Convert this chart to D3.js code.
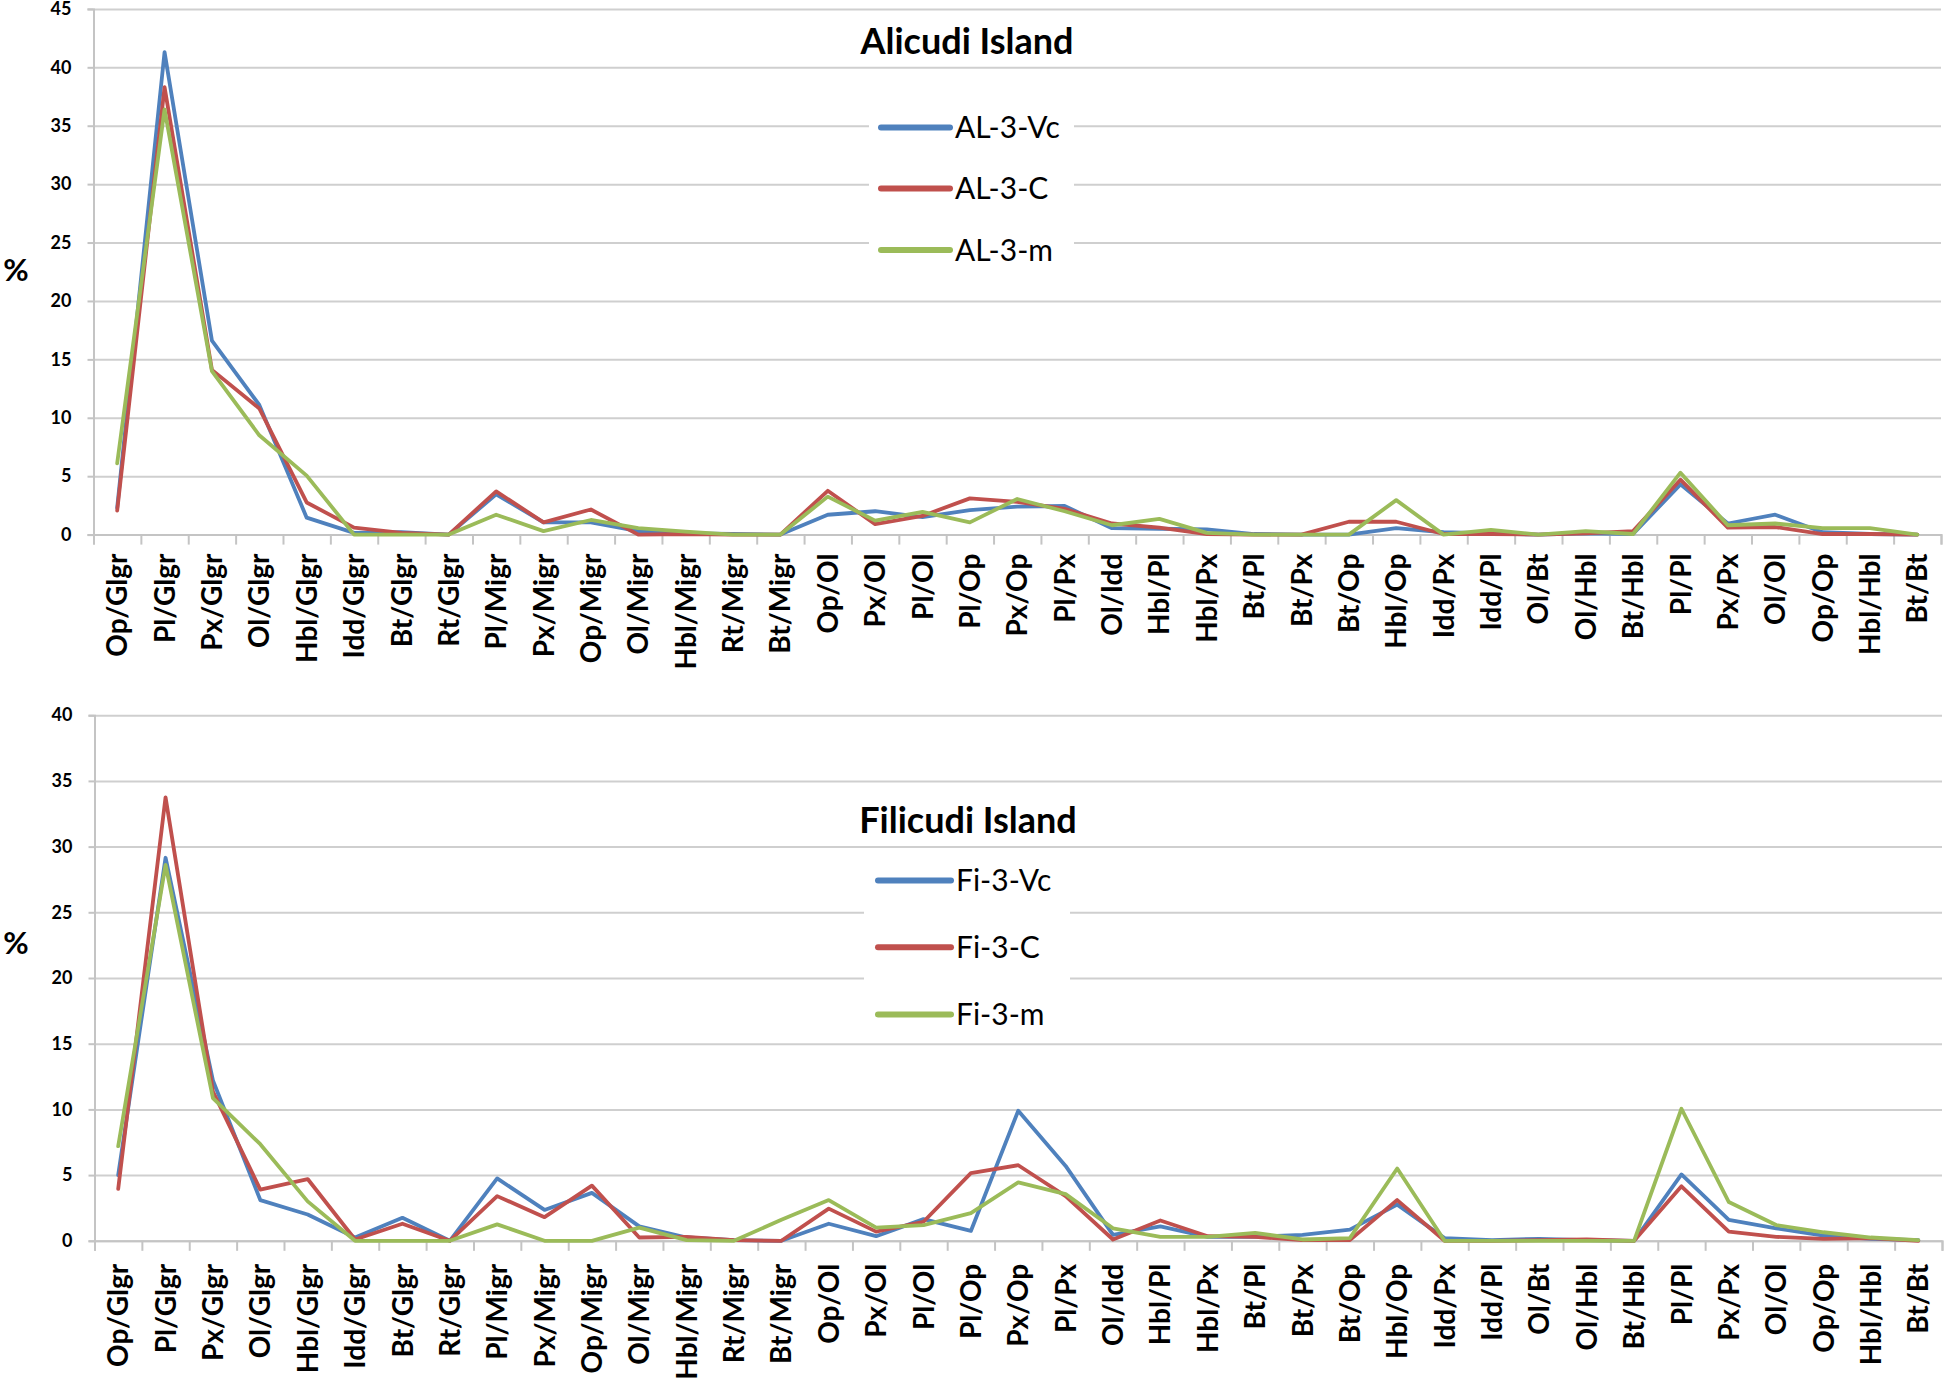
<!DOCTYPE html>
<html>
<head>
<meta charset="utf-8">
<script src="https://cdn.jsdelivr.net/npm/d3@7"></script>
<style>
  html, body { margin: 0; padding: 0; background: #ffffff; }
  svg { display: block; }
  .f { font-family: Lato, 'Open Sans', 'Liberation Sans', sans-serif; }
</style>
</head>
<body>
<svg id="chart" width="1946" height="1382"></svg>
<script>
const categories = ["Op/Glgr","Pl/Glgr","Px/Glgr","Ol/Glgr","Hbl/Glgr","Idd/Glgr","Bt/Glgr","Rt/Glgr",
  "Pl/Migr","Px/Migr","Op/Migr","Ol/Migr","Hbl/Migr","Rt/Migr","Bt/Migr",
  "Op/Ol","Px/Ol","Pl/Ol","Pl/Op","Px/Op","Pl/Px","Ol/Idd","Hbl/Pl","Hbl/Px","Bt/Pl","Bt/Px","Bt/Op",
  "Hbl/Op","Idd/Px","Idd/Pl","Ol/Bt","Ol/Hbl","Bt/Hbl","Pl/Pl","Px/Px","Ol/Ol","Op/Op","Hbl/Hbl","Bt/Bt"];

const alicudiNames = ["AL-3-Vc","AL-3-C","AL-3-m"];
const alicudiVc = [2.3,41.3,16.6,11.1,1.45,0.15,0.2,0,3.45,1.05,1.05,0.3,0.1,0.05,0,1.7,2.0,1.5,2.1,2.4,2.45,0.55,0.5,0.45,0.05,0,0,0.55,0.2,0.1,0,0.1,0.05,4.3,0.95,1.7,0.2,0.05,0];
const alicudiC  = [2.05,38.3,14.1,10.8,2.75,0.6,0.15,0,3.7,1.05,2.15,0,0.05,0,0,3.75,0.9,1.6,3.1,2.8,2.2,0.95,0.6,0.05,0,0,1.1,1.1,0.05,0.05,0,0.1,0.3,4.7,0.6,0.65,0.05,0.05,0];
const alicudiM  = [6.1,36.4,14.0,8.5,5.05,0,0,0,1.7,0.3,1.25,0.55,0.25,0,0,3.25,1.2,1.95,1.05,3.05,2.0,0.8,1.35,0.15,0,0,0,2.95,0,0.4,0,0.3,0.05,5.3,0.8,0.95,0.55,0.55,0];
const alicudiTicks = [0,5,10,15,20,25,30,35,40,45];

const filicudiNames = ["Fi-3-Vc","Fi-3-C","Fi-3-m"];
const filicudiVc = [5.0,29.15,12.2,3.1,2.0,0.25,1.75,0,4.75,2.35,3.65,1.1,0.25,0.05,0,1.3,0.35,1.65,0.75,9.9,5.7,0.45,1.1,0.3,0.3,0.45,0.85,2.75,0.2,0.05,0.15,0.05,0,5.05,1.6,0.95,0.4,0.15,0.05];
const filicudiC  = [3.95,33.75,11.35,3.9,4.7,0.1,1.3,0,3.4,1.8,4.2,0.25,0.3,0.05,0,2.45,0.7,1.45,5.15,5.75,3.4,0.1,1.55,0.35,0.3,0.05,0.05,3.1,0,0,0.05,0.1,0,4.15,0.7,0.3,0.15,0.2,0];
const filicudiM  = [7.2,28.6,10.85,7.35,3.0,0,0,0,1.25,0,0,1.0,0.05,0,1.6,3.1,1.0,1.2,2.1,4.45,3.55,0.95,0.3,0.3,0.6,0.1,0.2,5.5,0,0,0,0,0,10.05,2.95,1.2,0.65,0.25,0.05];
const filicudiTicks = [0,5,10,15,20,25,30,35,40];

const colors = ["#4F81BD","#C0504D","#9BBB59"];
const svg = d3.select("#chart");
svg.append("rect").attr("width",1946).attr("height",1382).attr("fill","#fff");

function drawChart(o) {
  const g = svg.append("g");
  const x = d3.scaleBand().domain(categories).range([o.x0, o.x1]).padding(0);
  const xb = d3.scaleLinear().domain([0, categories.length]).range([o.x0, o.x1]);
  const y = d3.scaleLinear().domain([0, d3.max(o.ticks)]).range([o.yb, o.yt]);
  const w = o.x1 - o.x0;

  // gridlines
  const grid = g.append("g").attr("transform", `translate(${o.x0},0)`)
    .call(d3.axisLeft(y).tickValues(o.ticks).tickSize(-w).tickFormat(""));
  grid.select(".domain").remove();
  grid.selectAll("line").attr("stroke", "#cfcfcf").attr("stroke-width", 2);

  // left axis with labels
  const ya = g.append("g").attr("transform", `translate(${o.x0},0)`)
    .call(d3.axisLeft(y).tickValues(o.ticks).tickSize(6).tickPadding(16));
  ya.select(".domain").attr("stroke", "#c4c4c4").attr("stroke-width", 2);
  ya.selectAll("line").attr("stroke", "#c4c4c4").attr("stroke-width", 2);
  ya.selectAll("text").attr("class","f").attr("font-size", 18).attr("font-weight", "bold").attr("fill", "#000");

  // legend box (white, hides gridlines)
  g.append("rect").attr("x", o.lx).attr("y", o.ly).attr("width", o.lw).attr("height", o.lh).attr("fill", "#fff");

  // bottom axis: tick marks at band boundaries
  const xt = g.append("g").attr("transform", `translate(0,${o.yb})`)
    .call(d3.axisBottom(xb).tickValues(d3.range(categories.length + 1)).tickSize(10).tickFormat(""));
  xt.select(".domain").attr("stroke", "#c4c4c4").attr("stroke-width", 2);
  xt.selectAll("line").attr("stroke", "#c4c4c4").attr("stroke-width", 2);

  // category labels
  const xa = g.append("g").attr("transform", `translate(0,${o.yb})`)
    .call(d3.axisBottom(x).tickSize(0).tickPadding(0));
  xa.select(".domain").remove();
  xa.selectAll("text")
    .attr("class","f")
    .attr("font-size", 28).attr("font-weight", "bold").attr("fill", "#000")
    .attr("text-anchor", "end")
    .attr("transform", `translate(0,${o.labelGap}) rotate(-90)`)
    .attr("x", 0).attr("y", 0).attr("dy", "0.36em");

  // series lines
  const line = d3.line().x((d, i) => x(categories[i]) + x.bandwidth() / 2).y(d => y(d));
  o.series.forEach((s, k) => {
    g.append("path").datum(s).attr("d", line)
      .attr("fill", "none").attr("stroke", colors[k]).attr("stroke-width", 3.8)
      .attr("stroke-linejoin", "round").attr("stroke-linecap", "round");
  });

  // title
  g.append("text").attr("class","f").attr("x", o.tx).attr("y", o.ty)
    .attr("text-anchor", "middle").attr("font-size", 36).attr("font-weight", "bold").attr("fill", "#000")
    .text(o.title);

  // y label
  g.append("text").attr("class","f").attr("x", 16).attr("y", o.py).attr("dy", "0.36em")
    .attr("text-anchor", "middle").attr("font-size", 31).attr("font-weight", "bold").attr("fill", "#000")
    .text("%");

  // legend
  o.names.forEach((n, k) => {
    const cy = o.legY[k];
    g.append("line").attr("x1", o.legX1).attr("x2", o.legX2).attr("y1", cy).attr("y2", cy)
      .attr("stroke", colors[k]).attr("stroke-width", 6).attr("stroke-linecap", "round");
    g.append("text").attr("class","f").attr("x", o.legX2 + 5).attr("y", cy).attr("dy", "0.36em")
      .attr("font-size", 30).attr("fill", "#000").text(n);
  });
}

drawChart({
  x0: 93.5, x1: 1941, yb: 534.6, yt: 8.9, ticks: alicudiTicks,
  series: [alicudiVc, alicudiC, alicudiM], names: alicudiNames,
  title: "Alicudi Island", tx: 967, ty: 53.5, py: 270, labelGap: 19,
  lx: 869, ly: 92, lw: 205, lh: 186,
  legX1: 881, legX2: 950, legY: [127.5, 188.6, 250]
});

drawChart({
  x0: 94.5, x1: 1942, yb: 1240.8, yt: 715.2, ticks: filicudiTicks,
  series: [filicudiVc, filicudiC, filicudiM], names: filicudiNames,
  title: "Filicudi Island", tx: 968, ty: 833, py: 943, labelGap: 23,
  lx: 864, ly: 858, lw: 206, lh: 178,
  legX1: 878, legX2: 951, legY: [880.6, 947.3, 1014.4]
});
</script>
</body>
</html>
